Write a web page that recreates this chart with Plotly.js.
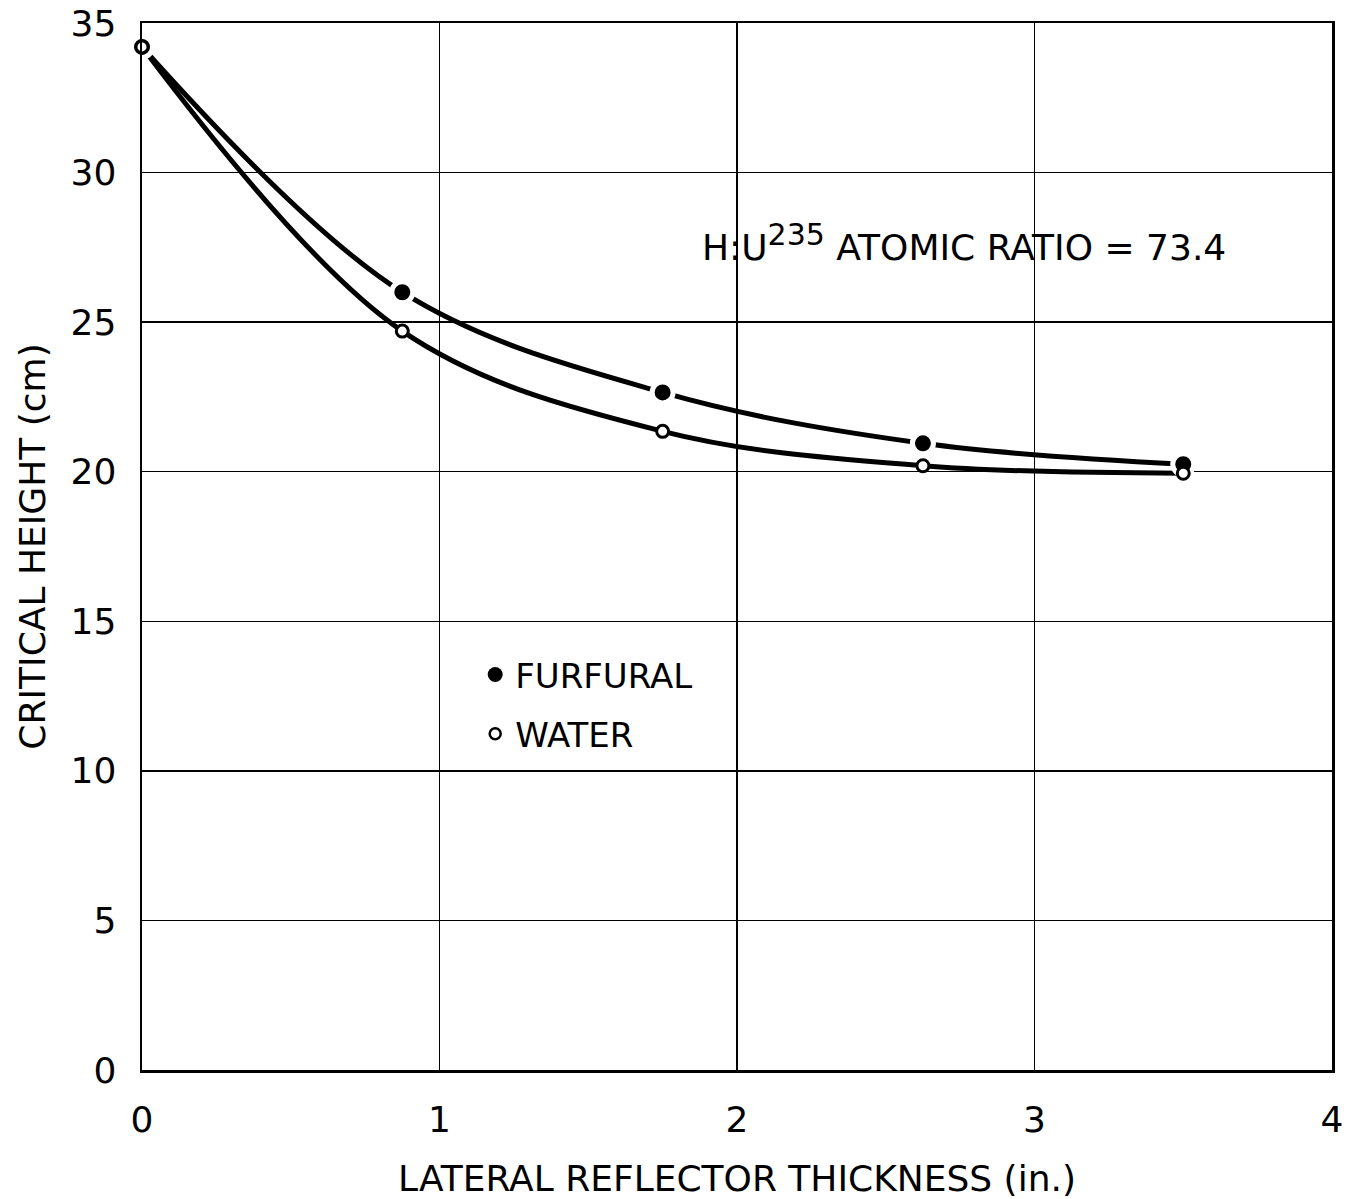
<!DOCTYPE html>
<html>
<head>
<meta charset="utf-8">
<script src="https://cdn.plot.ly/plotly-3.0.1.min.js"></script>
<style>html,body{margin:0;padding:0;background:#fff;}#chart{width:1363px;height:1199px;}</style>
</head>
<body>
<div id="chart"></div>
<script>
const thickness = [0, 0.875, 1.75, 2.625, 3.5];
const furfuralHeight = [34.2, 26.0, 22.65, 20.95, 20.25];
const waterHeight = [34.2, 24.7, 21.35, 20.2, 19.95];
const xTicks = [0, 1, 2, 3, 4];
const yTicks = [0, 5, 10, 15, 20, 25, 30, 35];
const seriesNames = ["FURFURAL", "WATER"];
const annotationText = "H:U<sup><span style=\"font-size:30px\">235</span></sup> ATOMIC RATIO = 73.4";

const FONT = "DejaVu Sans, Liberation Sans, sans-serif";

const traces = [
  {x: thickness, y: furfuralHeight, mode: "lines", line: {shape: "spline", smoothing: 1, color: "#000", width: 5}, showlegend: false, hoverinfo: "skip"},
  {x: thickness, y: waterHeight, mode: "lines", line: {shape: "spline", smoothing: 1, color: "#000", width: 5}, showlegend: false, hoverinfo: "skip"},
  {x: thickness, y: furfuralHeight, mode: "markers", name: seriesNames[0], showlegend: false,
   marker: {symbol: "circle", size: 21, color: "#000", line: {color: "#fff", width: 5}}, cliponaxis: false},
  {x: thickness, y: waterHeight, mode: "markers", name: seriesNames[1], showlegend: false,
   marker: {symbol: "circle", size: 12, color: "#fff", line: {color: "#000", width: 3}}, cliponaxis: false},
  {x: [null], y: [null], mode: "markers", name: seriesNames[0], legendgroup: "a",
   marker: {symbol: "circle", size: 15, color: "#000", line: {width: 0}}},
  {x: [null], y: [null], mode: "markers", name: seriesNames[1], legendgroup: "b",
   marker: {symbol: "circle", size: 11, color: "#fff", line: {color: "#000", width: 2.5}}}
];

const layout = {
  width: 1363, height: 1199,
  margin: {l: 142, r: 31, t: 23, b: 129},
  paper_bgcolor: "#fff", plot_bgcolor: "#fff",
  font: {family: FONT, color: "#000", size: 36},
  showlegend: true,
  legend: {x: 0.28, y: 0.405, xanchor: "left", yanchor: "top", font: {size: 34, family: FONT}, bgcolor: "rgba(0,0,0,0)", tracegroupgap: 12, itemsizing: "trace", itemwidth: 30},
  xaxis: {range: [0, 4], tickvals: xTicks, ticktext: xTicks.map(String), showgrid: true, gridcolor: "#000", gridwidth: 1.3,
    showline: true, linecolor: "#000", linewidth: 2.5, mirror: true, zeroline: false, ticks: "", ticklabelstandoff: 16,
    tickfont: {size: 36, family: FONT},
    title: {text: "LATERAL REFLECTOR THICKNESS (in.)", font: {size: 36, family: FONT}, standoff: 28}},
  yaxis: {range: [0, 35], tickvals: yTicks, ticktext: yTicks.map(String), showgrid: true, gridcolor: "#000", gridwidth: 1.3,
    showline: true, linecolor: "#000", linewidth: 2.5, mirror: true, zeroline: false, ticks: "", ticklabelstandoff: 16,
    tickfont: {size: 36, family: FONT},
    title: {text: "CRITICAL HEIGHT (cm)", font: {size: 36, family: FONT}, standoff: 14}},
  annotations: [
    {x: 0.469, y: 0.79, xref: "paper", yref: "paper", xanchor: "left", yanchor: "middle", showarrow: false,
     text: annotationText, font: {size: 36, family: FONT}}
  ]
};

Plotly.newPlot("chart", traces, layout, {displayModeBar: false, staticPlot: true});
</script>
</body>
</html>
